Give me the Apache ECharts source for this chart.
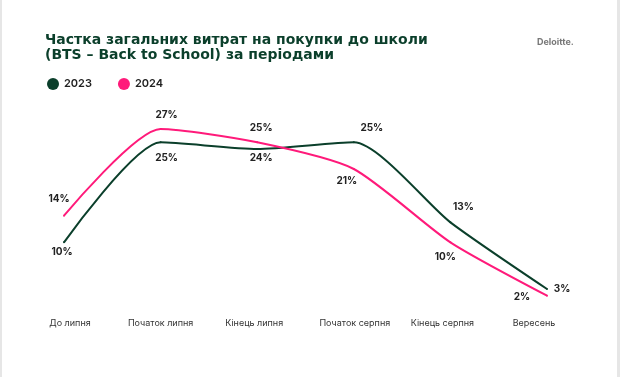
<!DOCTYPE html>
<html>
<head>
<meta charset="utf-8">
<script src="https://cdn.jsdelivr.net/npm/echarts@6/dist/echarts.min.js"></script>
<style>
  html, body { margin: 0; padding: 0; background: #fff; }
  #chart { width: 620px; height: 377px; }
</style>
</head>
<body>
<div id="chart"></div>
<script>
// періоди
const periods = ['До липня', 'Початок липня', 'Кінець липня', 'Початок серпня', 'Кінець серпня', 'Вересень']
const share2023 = [10, 25, 24, 25, 13, 3]
const share2024 = [14, 27, 25, 21, 10, 2]

const green = '#0b3f2b'
const pink = '#ff1a7a'

// зсуви підписів відносно точки [dx, dy]
const offsets2023 = [[-2, 10], [6, 16], [4, 9], [18, -14], [13, -15], [15, 0]]
const offsets2024 = [[-5, -17], [6, -14], [4, -14], [-7, 12], [-5, 15], [-25, 1]]
// підписи осі трохи зсунуті в оригіналі (padding [top, right, bottom, left])
const axisPads = [[0, 0, 0, 12], [0, 0, 0, 0], [0, 6, 0, 0], [0, 0, 0, 2], [0, 16, 0, 0], [0, 26, 0, 0]]

function withLabels(values, offsets) {
  return values.map((v, i) => ({
    value: v,
    label: { offset: offsets[i] }
  }))
}

const chart = echarts.init(document.getElementById('chart'))

const lineSeries = (name, values, offsets, color) => ({
  name: name,
  type: 'line',
  smooth: 0.22,
  symbol: 'circle',
  symbolSize: 2,
  itemStyle: { color: color },
  lineStyle: { color: color, width: 2 },
  label: {
    show: true,
    position: 'inside',
    formatter: '{c}%',
    color: '#222',
    fontFamily: 'Inter',
    fontWeight: 700,
    fontSize: 10
  },
  emphasis: { disabled: true },
  data: withLabels(values, offsets)
})

chart.setOption({
  animation: false,
  title: {
    text: 'Частка загальних витрат на покупки до школи\n(BTS – Back to School) за періодами',
    left: 40,
    top: 28,
    textStyle: {
      color: green,
      fontFamily: 'DejaVu Sans',
      fontWeight: 'bold',
      fontSize: 14,
      lineHeight: 15
    }
  },
  legend: {
    left: 42,
    top: 73,
    icon: 'circle',
    itemWidth: 12,
    itemHeight: 12,
    itemGap: 26,
    textStyle: {
      color: '#222',
      fontFamily: 'Inter',
      fontWeight: 600,
      fontSize: 11
    },
    data: ['2023', '2024']
  },
  graphic: [
    { type: 'rect', left: 0, top: 0, shape: { width: 2, height: 377 }, style: { fill: '#e6e6e6' } },
    { type: 'rect', left: 617, top: 0, shape: { width: 3, height: 377 }, style: { fill: '#e6e6e6' } },
    {
      type: 'text', left: 537, top: 38,
      style: { text: 'Deloitte.', fill: '#777', font: 'bold 9px Inter' }
    }
  ],
  grid: { left: 64, right: 73, top: 109, bottom: 68 },
  xAxis: {
    type: 'category',
    boundaryGap: false,
    data: periods.map((p, i) => ({ value: p, textStyle: { padding: axisPads[i] } })),
    axisLine: { show: false },
    axisTick: { show: false },
    axisLabel: {
      margin: 10,
      color: '#333',
      fontFamily: 'Inter',
      fontSize: 9
    }
  },
  yAxis: {
    type: 'value',
    min: 0,
    max: 30,
    show: false,
    splitLine: { show: false }
  },
  series: [
    lineSeries('2023', share2023, offsets2023, green),
    lineSeries('2024', share2024, offsets2024, pink)
  ]
})
</script>
</body>
</html>
